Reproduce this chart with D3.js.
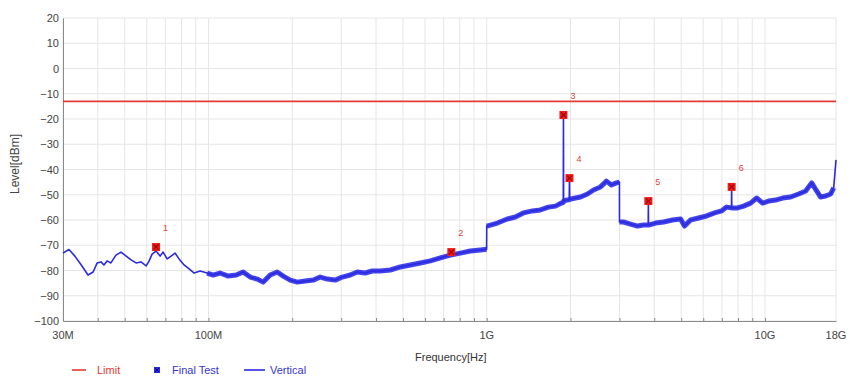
<!DOCTYPE html>
<html lang="en">
<head>
    <meta charset="UTF-8">
    <style>
        body { margin: 0; background: #fff; }
        svg text { font-family: "Liberation Sans", Arial, sans-serif; }
    </style>
    <script src="https://cdnjs.cloudflare.com/ajax/libs/d3/7.8.5/d3.min.js"></script>
    <title>EMI scan</title>
</head>
<body>
    <div id="chart"></div>
    <script>
        // frequency in MHz, level in dBm
        var trace = [
            [30, -73.1], [31.5, -71.7], [33.1, -74.3], [35.1, -78.2], [36.9, -81.8], [38.5, -80.6],
            [39.8, -77.0], [41.1, -76.6], [42.1, -77.8], [43.2, -76.2], [44.6, -77.0], [46.5, -73.9],
            [48.5, -72.7], [50.6, -74.3], [52.7, -75.8], [54.9, -77.0], [57.2, -76.6], [59.7, -78.2],
            [61.2, -76.2], [62.7, -73.5], [64.8, -72.3], [67.0, -74.3], [68.7, -72.7], [71.0, -75.4],
            [73.4, -74.3], [75.8, -73.1], [78.4, -75.4], [81.7, -77.8], [85.2, -79.4], [88.8, -81.0],
            [93.3, -80.2], [98.9, -81.0], [103.9, -81.8], [110, -81.0], [117.7, -82.2], [125.8, -81.8],
            [133.2, -80.6], [141.2, -82.6], [149.6, -83.4], [157.3, -84.6], [166.6, -81.8], [176.6, -80.6],
            [185.6, -82.2], [196.7, -83.8], [208.4, -84.6], [222.6, -84.2], [238, -83.8], [252.1, -82.6],
            [267.2, -83.4], [285.5, -83.8], [302.5, -82.6], [323.2, -81.8], [342.5, -80.6], [366, -81.0],
            [387.9, -80.2], [414.4, -80.2], [450.3, -79.8], [489.1, -78.6], [531.3, -77.8], [577.3, -77.0],
            [627.1, -76.2], [681.3, -75.0], [740.1, -73.9], [804, -73.1], [873.3, -72.3], [948.7, -71.9],
            [999, -71.6], [1000, -62.4], [1031, -62.0], [1092, -61.2], [1186, -59.6], [1267, -58.8],
            [1354, -57.2], [1459, -56.4], [1559, -56.0], [1666, -54.9], [1766, -54.5], [1855, -53.3],
            [1884, -53.0], [1887, -18.4], [1890, -52.5], [1934, -52.1], [1979, -52.0], [1983, -43.4],
            [1987, -51.8], [2084, -51.3], [2172, -50.9], [2302, -49.7], [2419, -48.1], [2563, -46.9],
            [2694, -44.6], [2807, -46.1], [2926, -45.3], [2999, -45.0], [3000, -60.8], [3101, -60.8],
            [3286, -61.6], [3482, -62.4], [3660, -62.0], [3805, -62.0], [3810, -52.5], [3815, -62.0],
            [4044, -61.2], [4320, -60.8], [4654, -60.0], [4973, -59.6], [5139, -62.4], [5400, -60.0],
            [5771, -59.2], [6167, -58.4], [6589, -57.2], [6980, -56.4], [7277, -54.9], [7580, -55.2],
            [7590, -46.9], [7600, -55.2], [7973, -55.2], [8378, -54.5], [8879, -53.3], [9333, -51.3],
            [9808, -53.3], [10308, -52.5], [10921, -52.1], [11574, -51.3], [12364, -50.9], [13215, -49.7],
            [14003, -48.5], [14716, -45.3], [15338, -48.5], [15851, -50.9], [16524, -50.5], [17223, -49.7],
            [17658, -47.3], [18000, -36.2]
        ];

        var markerFreq = [64.8, 746, 1887, 1983, 3810, 7590];
        var markerLevel = [-70.7, -72.7, -18.4, -43.4, -52.5, -46.9];
        var markerNames = ['1', '2', '3', '4', '5', '6'];

        var limitLevel = -13;

        var yTicks = [20, 10, 0, -10, -20, -30, -40, -50, -60, -70, -80, -90, -100];
        var xLabelFreq = [30, 100, 1000, 10000, 18000];
        var xLabelText = ['30M', '100M', '1G', '10G', '18G'];

        function drawChart() {
            var width = 850,
                height = 377,
                pLeft = 63,
                pRight = 836,
                pTop = 18,
                pBottom = 321;

            var svg = d3.select('#chart')
                .append('svg')
                .attr('width', width)
                .attr('height', height);

            var x = d3.scaleLog()
                .domain([30, 18000])
                .range([pLeft, pRight]);

            var y = d3.scaleLinear()
                .domain([-100, 20])
                .range([pBottom, pTop]);

            // grid
            var gridX = x.ticks().concat([18000]);
            svg.append('g')
                .selectAll('line')
                .data(gridX)
                .enter()
                .append('line')
                .attr('x1', function (d) { return x(d); })
                .attr('x2', function (d) { return x(d); })
                .attr('y1', pTop)
                .attr('y2', pBottom)
                .attr('stroke', '#e6e6e6')
                .attr('stroke-width', 1);

            svg.append('g')
                .selectAll('line')
                .data(yTicks)
                .enter()
                .append('line')
                .attr('x1', pLeft)
                .attr('x2', pRight)
                .attr('y1', function (d) { return y(d); })
                .attr('y2', function (d) { return y(d); })
                .attr('stroke', '#e6e6e6')
                .attr('stroke-width', 1);

            // axes
            var xAxis = d3.axisBottom(x)
                .tickValues(x.ticks())
                .tickSizeInner(-3)
                .tickSizeOuter(0)
                .tickPadding(10)
                .tickFormat('');

            var gx = svg.append('g')
                .attr('transform', 'translate(0,' + pBottom + ')')
                .call(xAxis);
            gx.select('.domain').attr('stroke', '#8a8a8a');
            gx.selectAll('.tick line').attr('stroke', '#8a8a8a');

            svg.append('g')
                .selectAll('text')
                .data(xLabelFreq)
                .enter()
                .append('text')
                .attr('x', function (d) { return x(d); })
                .attr('y', pBottom + 18)
                .attr('text-anchor', 'middle')
                .attr('font-size', '11px')
                .attr('fill', '#444')
                .text(function (d, i) { return xLabelText[i]; });

            var yAxis = d3.axisLeft(y)
                .tickValues(yTicks)
                .tickSize(0)
                .tickPadding(4);

            var gy = svg.append('g')
                .attr('transform', 'translate(' + pLeft + ',0)')
                .call(yAxis);
            gy.select('.domain').attr('stroke', '#8a8a8a');
            gy.selectAll('text')
                .attr('font-size', '11px')
                .attr('font-family', '"Liberation Sans", Arial, sans-serif')
                .attr('fill', '#444');

            // axis titles
            svg.append('text')
                .attr('transform', 'translate(19,164) rotate(-90)')
                .attr('text-anchor', 'middle')
                .attr('font-size', '12px')
                .attr('fill', '#444')
                .text('Level[dBm]');

            svg.append('text')
                .attr('x', 415)
                .attr('y', 361)
                .attr('font-size', '11px')
                .attr('fill', '#333')
                .text('Frequency[Hz]');

            // limit
            svg.append('line')
                .attr('x1', pLeft)
                .attr('x2', pRight)
                .attr('y1', y(limitLevel))
                .attr('y2', y(limitLevel))
                .attr('stroke', '#e43a34')
                .attr('stroke-width', 1.8);

            // trace
            var line = d3.line()
                .x(function (d) { return x(d[0]); })
                .y(function (d) { return y(d[1]); });

            // thick noise band: skip spike tops and split at the range steps
            var pieces = [[]];
            trace.forEach(function (d, i) {
                if (d[0] < 95) return;
                var prev = trace[i - 1], next = trace[i + 1];
                if (prev && next && d[1] - prev[1] > 5 && d[1] - next[1] > 5) return;
                var cur = pieces[pieces.length - 1];
                if (cur.length && Math.abs(d[1] - cur[cur.length - 1][1]) > 5) {
                    cur = [];
                    pieces.push(cur);
                }
                cur.push(d);
            });

            svg.append('g')
                .selectAll('path')
                .data(pieces)
                .enter()
                .append('path')
                .attr('d', line)
                .attr('fill', 'none')
                .attr('stroke', '#2222e6')
                .attr('stroke-width', 5)
                .attr('stroke-opacity', 0.85)
                .attr('stroke-linejoin', 'round');

            svg.append('path')
                .datum(trace)
                .attr('d', line)
                .attr('fill', 'none')
                .attr('stroke', '#2a2ae0')
                .attr('stroke-width', 1.6)
                .attr('stroke-linejoin', 'round');

            // final test markers
            var mk = svg.append('g')
                .selectAll('g')
                .data(markerFreq)
                .enter()
                .append('g')
                .attr('transform', function (d, i) {
                    return 'translate(' + x(d) + ',' + y(markerLevel[i]) + ')';
                });

            mk.append('rect')
                .attr('x', -4)
                .attr('y', -4)
                .attr('width', 8)
                .attr('height', 8)
                .attr('fill', '#f01c1c');

            mk.append('path')
                .attr('d', 'M-2.5,-2.5L2.5,2.5M-2.5,2.5L2.5,-2.5')
                .attr('stroke', '#a00000')
                .attr('stroke-width', 1.2);

            mk.append('text')
                .attr('x', 7)
                .attr('y', -16)
                .attr('font-size', '9px')
                .attr('fill', '#e04040')
                .text(function (d, i) { return markerNames[i]; });

            // legend
            var lg = svg.append('g')
                .attr('transform', 'translate(0,370)');

            lg.append('line')
                .attr('x1', 72).attr('x2', 86)
                .attr('y1', 0).attr('y2', 0)
                .attr('stroke', '#e43a34')
                .attr('stroke-width', 1.6);
            lg.append('text')
                .attr('x', 97).attr('y', 4)
                .attr('font-size', '11px')
                .attr('fill', '#e43a34')
                .text('Limit');

            lg.append('rect')
                .attr('x', 154).attr('y', -3)
                .attr('width', 6).attr('height', 6)
                .attr('fill', '#2a2ae0');
            lg.append('path')
                .attr('d', 'M155,-2L159,2M155,2L159,-2')
                .attr('stroke', '#000090')
                .attr('stroke-width', 1);
            lg.append('text')
                .attr('x', 172).attr('y', 4)
                .attr('font-size', '11px')
                .attr('fill', '#3535d0')
                .text('Final Test');

            lg.append('line')
                .attr('x1', 244).attr('x2', 265)
                .attr('y1', 0).attr('y2', 0)
                .attr('stroke', '#2a2ae0')
                .attr('stroke-width', 1.6);
            lg.append('text')
                .attr('x', 270).attr('y', 4)
                .attr('font-size', '11px')
                .attr('fill', '#3535d0')
                .text('Vertical');
        }
        drawChart();
    </script>
</body>
</html>
